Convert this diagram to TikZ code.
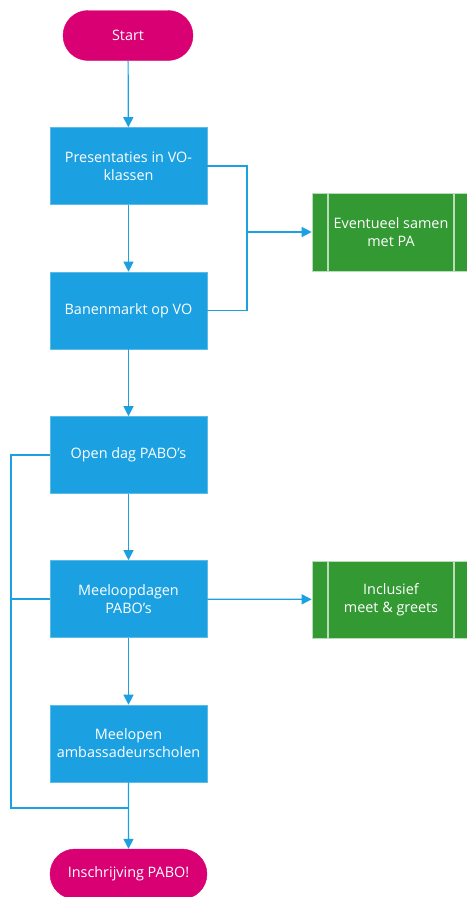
\documentclass[tikz,border=0pt]{standalone}
\usepackage{fontspec}
\setmainfont{Open Sans}
\usetikzlibrary{arrows.meta,shapes.misc}
\definecolor{pinkc}{HTML}{D80073}
\definecolor{bluec}{HTML}{1BA1E2}
\definecolor{greenc}{HTML}{339933}
\definecolor{bordc}{HTML}{5DBBEA}
\definecolor{gline}{HTML}{B8DDB8}
\begin{document}
\begin{tikzpicture}[x=1pt,y=-1pt,
 txt/.style={text=white,font=\fontsize{14.4}{18}\selectfont,align=center,inner sep=0pt},
 procbox/.style={txt,rectangle,fill=bluec,draw=bordc,line width=0.6pt,minimum width=157pt,minimum height=77pt},
 termbox/.style={txt,rounded rectangle,fill=pinkc,draw=pinkc,minimum height=50pt},
 predef/.style={txt,rectangle,fill=greenc,draw=gline,line width=0.6pt,minimum width=158pt,minimum height=78pt,
   path picture={\draw[gline,line width=1.2pt]
     ([xshift=16pt]path picture bounding box.north west) -- ([xshift=16pt]path picture bounding box.south west)
     ([xshift=-16pt]path picture bounding box.north east) -- ([xshift=-16pt]path picture bounding box.south east);}},
 conn/.style={bluec,line width=1.2pt,-{Triangle[width=10pt,length=10pt]}},
 plain/.style={bluec,line width=1.2pt}]
\useasboundingbox (0,0) rectangle (466,897);
\node[termbox,minimum width=130pt] (start) at (128,35.5) {Start};
\node[procbox] (pres) at (128.5,166) {Presentaties in VO-\\klassen};
\node[procbox] (ban) at (128.5,310.5) {Banenmarkt op VO};
\node[procbox] (open) at (128.5,455) {Open dag PABO’s};
\node[procbox] (meeloop) at (128.5,599) {Meeloopdagen\\PABO’s};
\node[procbox] (meelopen) at (128.5,743.5) {Meelopen\\ambassadeurscholen};
\node[termbox,minimum width=157pt] (insch) at (128.5,874) {Inschrijving PABO!};
\node[predef] (g1) at (391,232) {Eventueel samen\\met PA};
\node[predef,minimum height=77pt] (g2) at (391,599.5) {Inclusief\\meet \& greets};
\coordinate (jr) at (247,232);
\coordinate (jl) at (11,808);
\coordinate (jb) at (128.5,808);
\draw[conn] (start) -- (pres);
\draw[conn] (pres) -- (ban);
\draw[conn] (ban) -- (open);
\draw[conn] (open) -- (meeloop);
\draw[conn] (meeloop) -- (meelopen);
\draw[conn] (meelopen) -- (insch);
\draw[plain] (pres.east) -| (jr) |- (ban.east);
\draw[conn] (jr) -- (g1);
\draw[plain] (open.west) -| (jl) -- (jb);
\draw[plain] (meeloop.west) -- (meeloop.west -| jl);
\draw[conn] (meeloop) -- (g2);
\end{tikzpicture}
\end{document}
